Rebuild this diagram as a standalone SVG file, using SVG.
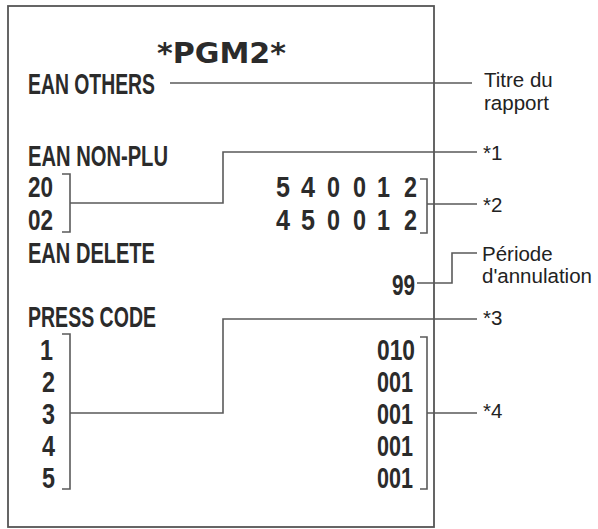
<svg xmlns="http://www.w3.org/2000/svg" width="598" height="529" viewBox="0 0 598 529">
<style>
.r{font-family:"Liberation Sans",Arial,sans-serif;font-weight:bold;font-size:30px;fill:#2b2b2b}
.t{font-family:"DejaVu Sans",sans-serif;font-weight:bold;font-size:29px;fill:#2b2b2b}
.l{font-family:"Liberation Sans",Arial,sans-serif;font-size:20.5px;fill:#222}
.c{fill:none;stroke:#5a5a5a;stroke-width:1.6}
</style>
<rect width="598" height="529" fill="#fff"/>
<g id="receipt">
<rect x="8" y="6" width="426" height="521" fill="none" stroke="#555" stroke-width="1.8"/>
<text class="t" x="157" y="63" textLength="129" lengthAdjust="spacingAndGlyphs">*PGM2*</text>
<text class="r" x="28" y="94" textLength="127" lengthAdjust="spacingAndGlyphs">EAN OTHERS</text>
<text class="r" x="28" y="166" textLength="140" lengthAdjust="spacingAndGlyphs">EAN NON-PLU</text>
<text class="r" x="28" y="197" textLength="25" lengthAdjust="spacingAndGlyphs">20</text>
<text class="r" x="28" y="230" textLength="25" lengthAdjust="spacingAndGlyphs">02</text>
<text class="r" x="276" y="197" textLength="14" lengthAdjust="spacingAndGlyphs">5</text>
<text class="r" x="301" y="197" textLength="14" lengthAdjust="spacingAndGlyphs">4</text>
<text class="r" x="327" y="197" textLength="13" lengthAdjust="spacingAndGlyphs">0</text>
<text class="r" x="353" y="197" textLength="13" lengthAdjust="spacingAndGlyphs">0</text>
<text class="r" x="377" y="197" textLength="13" lengthAdjust="spacingAndGlyphs">1</text>
<text class="r" x="404" y="197" textLength="13" lengthAdjust="spacingAndGlyphs">2</text>
<text class="r" x="276" y="230" textLength="14" lengthAdjust="spacingAndGlyphs">4</text>
<text class="r" x="301" y="230" textLength="14" lengthAdjust="spacingAndGlyphs">5</text>
<text class="r" x="327" y="230" textLength="13" lengthAdjust="spacingAndGlyphs">0</text>
<text class="r" x="353" y="230" textLength="13" lengthAdjust="spacingAndGlyphs">0</text>
<text class="r" x="377" y="230" textLength="13" lengthAdjust="spacingAndGlyphs">1</text>
<text class="r" x="404" y="230" textLength="13" lengthAdjust="spacingAndGlyphs">2</text>
<text class="r" x="28" y="263" textLength="127" lengthAdjust="spacingAndGlyphs">EAN DELETE</text>
<text class="r" x="392" y="295" textLength="23" lengthAdjust="spacingAndGlyphs">99</text>
<text class="r" x="28" y="327" textLength="128" lengthAdjust="spacingAndGlyphs">PRESS CODE</text>
<text class="r" x="40" y="360" textLength="13" lengthAdjust="spacingAndGlyphs">1</text>
<text class="r" x="42" y="392" textLength="13" lengthAdjust="spacingAndGlyphs">2</text>
<text class="r" x="42" y="424" textLength="13" lengthAdjust="spacingAndGlyphs">3</text>
<text class="r" x="42" y="456" textLength="13" lengthAdjust="spacingAndGlyphs">4</text>
<text class="r" x="42" y="488" textLength="13" lengthAdjust="spacingAndGlyphs">5</text>
<text class="r" x="377" y="360" textLength="38" lengthAdjust="spacingAndGlyphs">010</text>
<text class="r" x="377" y="392" textLength="36" lengthAdjust="spacingAndGlyphs">001</text>
<text class="r" x="377" y="424" textLength="36" lengthAdjust="spacingAndGlyphs">001</text>
<text class="r" x="377" y="456" textLength="36" lengthAdjust="spacingAndGlyphs">001</text>
<text class="r" x="377" y="488" textLength="36" lengthAdjust="spacingAndGlyphs">001</text>
</g>
<g id="connectors">
<path class="c" d="M170 83H472"/>
<path class="c" d="M62 174H70V232H62M70 203H223V152H477"/>
<path class="c" d="M420 179H427V233H420M427 204H477"/>
<path class="c" d="M417 283H452V253H477"/>
<path class="c" d="M62 334H70V489H62M70 413H223V319H477"/>
<path class="c" d="M420 337H427V489H420M427 413H477"/>
</g>
<g id="labels">
<text class="l" x="484" y="87">Titre du</text>
<text class="l" x="484" y="110">rapport</text>
<text class="l" x="483" y="160">*1</text>
<text class="l" x="483" y="212">*2</text>
<text class="l" x="482" y="261">Période</text>
<text class="l" x="482" y="283">d'annulation</text>
<text class="l" x="483" y="325">*3</text>
<text class="l" x="483" y="418">*4</text>
</g>
</svg>
